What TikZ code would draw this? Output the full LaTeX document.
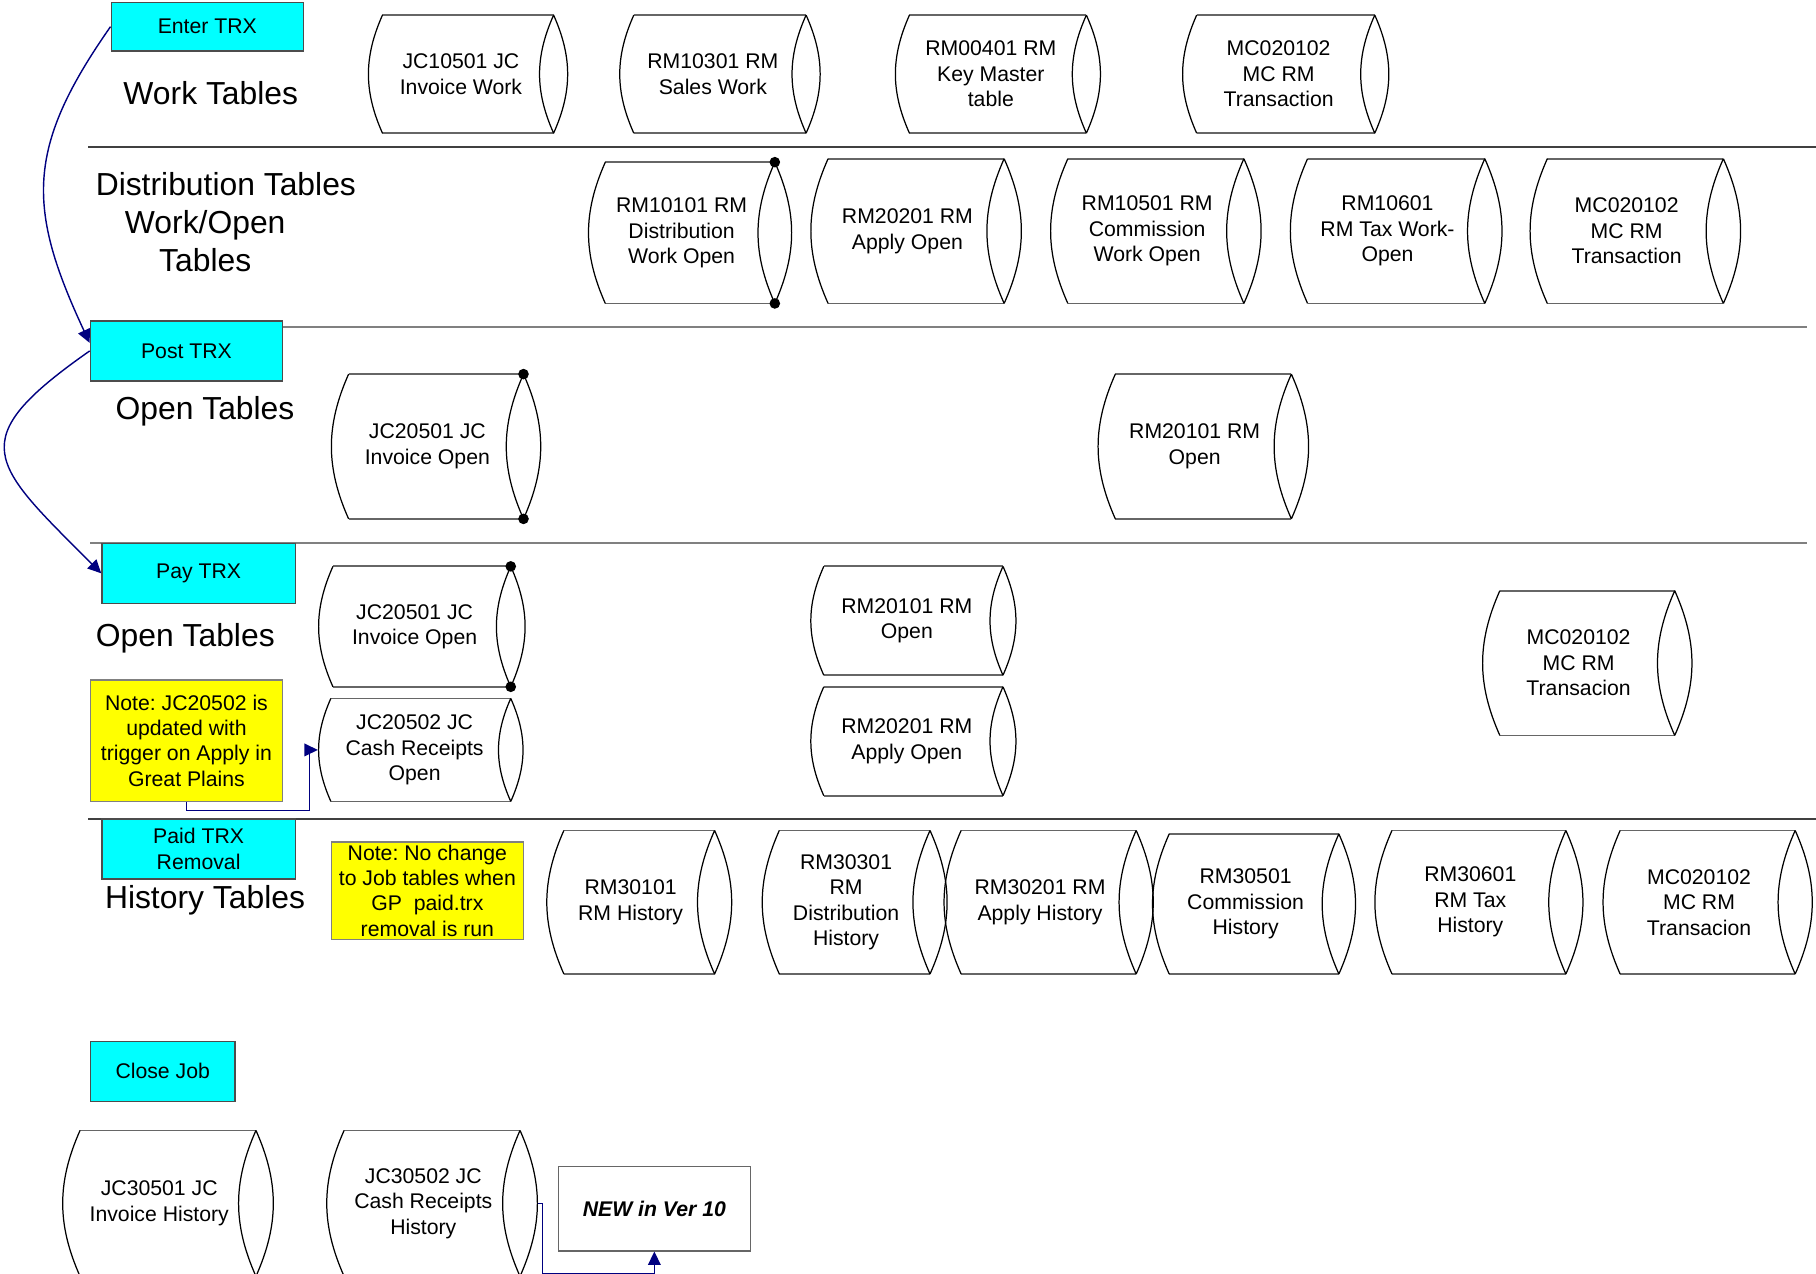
\documentclass[tikz,border=0pt]{standalone}
\usepackage{fontspec}
\setmainfont{Liberation Sans}
\usetikzlibrary{arrows.meta,fit,calc}
\frenchspacing

\definecolor{trxcyan}{RGB}{0,255,255}
\definecolor{noteyellow}{RGB}{255,255,0}
\definecolor{linknavy}{RGB}{0,0,128}

% table drum: name, outer left, right rim, top, bottom, text
\newcommand\dbtable[6]{%
  \coordinate (#1-nw) at ({#2+0.12*(#5-#4)},-#4);
  \coordinate (#1-sw) at ({#2+0.12*(#5-#4)},-#5);
  \coordinate (#1-ne) at (#3,-#4);
  \coordinate (#1-se) at (#3,-#5);
  \draw[tbledge] (#1-nw) -- (#1-ne) (#1-sw) -- (#1-se);
  \draw[tblrim] (#1-nw) to[bend right=24] (#1-sw)
                (#1-ne) to[bend left=24] (#1-se)
                (#1-ne) to[bend right=24] (#1-se);
  \node[inner sep=0pt, fit={(#2,-#4) (#3,-#5)}] (#1) {};
  \node[tbltext] (#1-txt) at (#1) {#6};
}

\begin{document}
\begin{tikzpicture}[x=0.0115cm, y=0.0115cm, >={Triangle[length=3.8pt,width=3.6pt]},
    tbledge/.style={draw=black!60, line width=0.5pt},
    tblrim/.style={draw=black, line width=0.35pt},
    tbltext/.style={inner sep=0pt, align=center, font=\fontsize{6}{7.2}\selectfont},
    stepbox/.style={draw=black!70, fill=trxcyan, inner sep=0pt, align=center, font=\fontsize{6}{7.2}\selectfont},
    notebox/.style={draw=black!50, fill=noteyellow, inner sep=0pt, align=center, font=\fontsize{6}{7.2}\selectfont},
    phase/.style={align=center, font=\fontsize{9}{10.8}\selectfont},
    sep/.style={line width=0.6pt},
    link/.style={draw=linknavy, line width=0.4pt, ->},
    dot/.style={fill=black}]

  \fill[white] (0,0) rectangle (1568,-1100);
  \useasboundingbox (0,0) rectangle (1568,-1100);

  % band rules
  \draw[sep, draw=black!75] (76,-127) -- (1568,-127);
  \draw[sep, draw=black!50] (78,-282) -- (1560,-282);
  \draw[sep, draw=black!50] (78,-469) -- (1560,-469);
  \draw[sep, draw=black!75] (76,-707) -- (1568,-707);

  % steps
  \node[stepbox, minimum width=1.909cm, minimum height=0.483cm] (enter) at (179,-23) {Enter TRX};
  \node[stepbox, minimum width=1.909cm, minimum height=0.598cm] (post) at (161,-303) {Post TRX};
  \node[stepbox, minimum width=1.9205cm, minimum height=0.598cm] (pay) at (171.5,-495) {Pay TRX};
  \node[stepbox, minimum width=1.9205cm, minimum height=0.598cm] (paid) at (171.5,-733) {Paid TRX\\Removal};
  \node[stepbox, minimum width=1.4375cm, minimum height=0.598cm] (close) at (140.5,-925) {Close Job};

  % band titles
  \node[phase] (worktitle) at (182,-80) {Work Tables};
  \node[phase] (disttitle) at (195,-192) {Distribution Tables\\Work/Open\rule{0.41cm}{0pt}\\Tables\rule{0.41cm}{0pt}};
  \node[phase] (opentitle1) at (177,-355) {Open Tables};
  \node[phase] (opentitle2) at (160,-551) {Open Tables};
  \node[phase] (histtitle) at (177,-777) {History Tables};

  % work tables
  \dbtable{jcw}{318}{478}{13}{115}{JC10501 JC\\Invoice Work}
  \dbtable{rms}{535}{696}{13}{115}{RM10301 RM\\Sales Work}
  \dbtable{rmk}{773}{938}{13}{115}{RM00401 RM\\Key Master\\table}
  \dbtable{mct}{1021}{1187}{13}{115}{MC020102\\MC RM\\Transaction}

  % distribution tables
  \dbtable{rmd}{508}{669}{140}{262}{RM10101 RM\\Distribution\\Work Open}
  \dbtable{rma}{700}{867}{137}{262}{RM20201 RM\\Apply Open}
  \dbtable{rmc}{907}{1074}{137}{262}{RM10501 RM\\Commission\\Work Open}
  \dbtable{rmt}{1114}{1282}{137}{262}{RM10601\\RM Tax Work-\\Open}
  \dbtable{mcd}{1321}{1488}{137}{262}{MC020102\\MC RM\\Transaction}

  % open tables after posting
  \dbtable{jco1}{286}{452}{323}{448}{JC20501 JC\\Invoice Open}
  \dbtable{rmo1}{948}{1115}{323}{448}{RM20101 RM\\Open}

  % open tables after paying
  \dbtable{jco2}{275}{441}{489}{593}{JC20501 JC\\Invoice Open}
  \dbtable{jcr}{275}{441}{603}{692}{JC20502 JC\\Cash Receipts\\Open}
  \dbtable{rmo2}{700}{866}{489}{583}{RM20101 RM\\Open}
  \dbtable{rma2}{700}{866}{593}{687}{RM20201 RM\\Apply Open}
  \dbtable{mcp}{1280}{1446}{510}{635}{MC020102\\MC RM\\Transacion}

  % history tables
  \dbtable{rmh}{472}{617}{717}{841}{RM30101\\RM History}
  \dbtable{rmdh}{658}{803}{717}{841}{RM30301\\RM\\Distribution\\History}
  \dbtable{rmah}{815}{981}{717}{841}{RM30201 RM\\Apply History}
  \dbtable{rmch}{995}{1156}{720}{841}{RM30501\\Commission\\History}
  \dbtable{rmth}{1187}{1352}{717}{841}{RM30601\\RM Tax\\History}
  \dbtable{mch}{1384}{1550}{717}{841}{MC020102\\MC RM\\Transacion}

  % closed job
  \dbtable{jch1}{54}{221}{976}{1102}{JC30501 JC\\Invoice History}
  \dbtable{jch2}{282}{449}{976}{1102}{JC30502 JC\\Cash Receipts\\History}

  \fill[dot] (rmd-ne) circle[radius=1.5pt] (rmd-se) circle[radius=1.5pt];
  \fill[dot] (jco1-ne) circle[radius=1.5pt] (jco1-se) circle[radius=1.5pt];
  \fill[dot] (jco2-ne) circle[radius=1.5pt] (jco2-se) circle[radius=1.5pt];

  % notes
  \node[notebox, minimum width=1.909cm, minimum height=1.2075cm] (note1) at (161,-639.5)
    {Note: JC20502 is\\updated with\\trigger on Apply in\\Great Plains};
  \node[notebox, minimum width=1.909cm, minimum height=0.966cm] (note2) at (369,-769)
    {Note: No change\\to Job tables when\\GP\ \ paid.trx\\removal is run};
  \node[draw=black!60, fill=white, minimum width=1.909cm, minimum height=0.8395cm,
    font=\fontsize{6}{7.2}\selectfont\bfseries\itshape] (newv) at (565,-1043.5) {NEW in Ver 10};

  % flow
  \draw[link] (enter.west) to[out=235, in=115, looseness=1.2] ([yshift=0.08cm]post.west);
  \draw[link] (post.west) to[out=215, in=135, looseness=1.8] (pay.west);
  \draw[link] (note1.south) -- ++(0,-7) -| ([xshift=-0.08cm]jcr.west) -- (jcr.west);
  \draw[link] ([xshift=0.17cm]jch2.east) -- ++(4,0) -- ++(0,-61) -| (newv.south);

\end{tikzpicture}
\end{document}
